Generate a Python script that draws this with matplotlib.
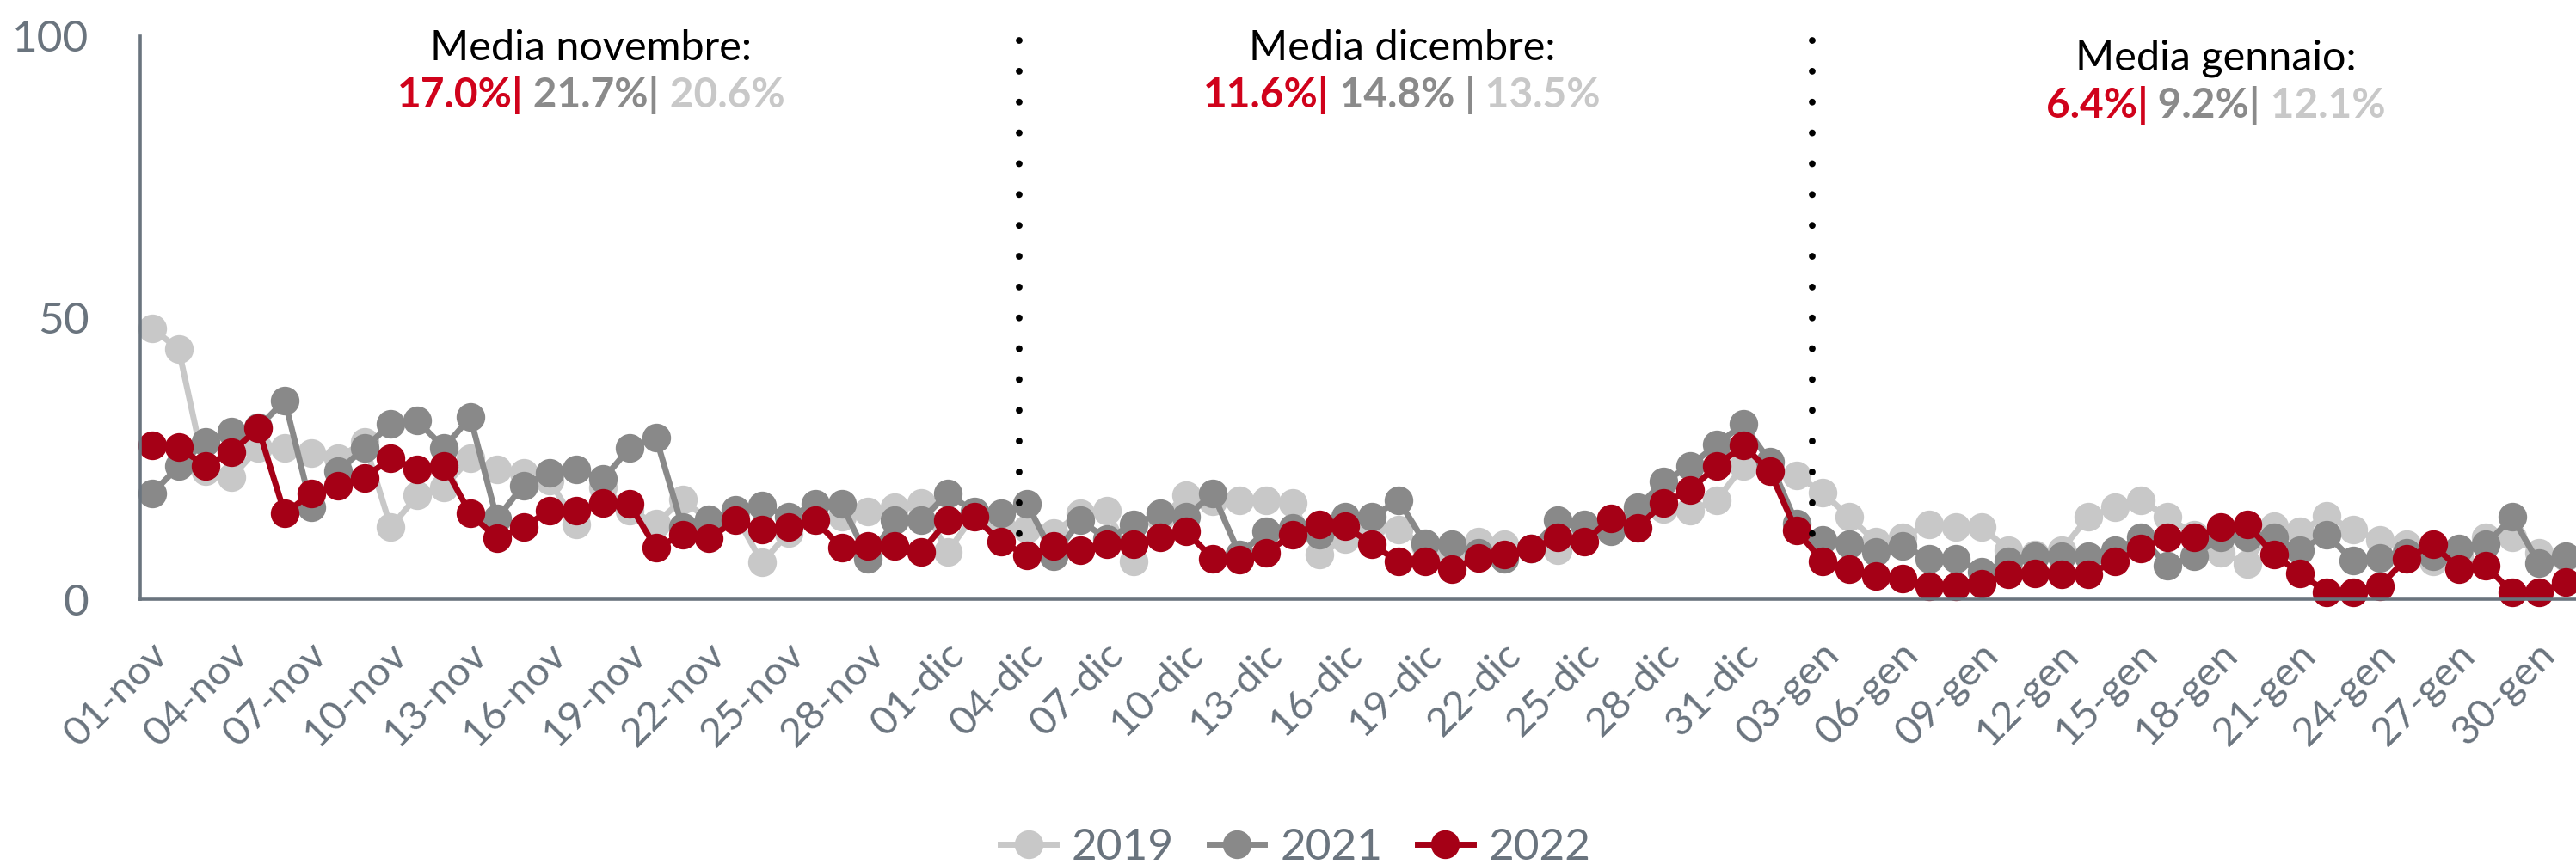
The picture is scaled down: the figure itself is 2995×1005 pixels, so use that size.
import matplotlib
matplotlib.use("Agg")
import matplotlib.pyplot as plt
from matplotlib.transforms import ScaledTranslation
import numpy as np

plt.rcParams['font.family'] = ['Lato', 'DejaVu Sans']

# giorni dal 01-nov al 31-gen
tick_labels = ['01-nov', '04-nov', '07-nov', '10-nov', '13-nov', '16-nov', '19-nov',
               '22-nov', '25-nov', '28-nov', '01-dic', '04-dic', '07-dic', '10-dic',
               '13-dic', '16-dic', '19-dic', '22-dic', '25-dic', '28-dic', '31-dic',
               '03-gen', '06-gen', '09-gen', '12-gen', '15-gen', '18-gen', '21-gen',
               '24-gen', '27-gen', '30-gen']

y2019 = [48.1, 44.4, 22.7, 21.7, 26.8, 26.8, 26.0, 25.0, 28.0, 12.8,
         18.4, 19.9, 25.0, 23.0, 22.4, 21.0, 13.3, 19.9, 15.8, 13.5,
         17.7, 14.0, 15.0, 6.5, 11.8, 14.0, 14.6, 15.6, 16.3, 17.1,
         8.4, 15.0, 13.0, 12.5, 11.8, 15.3, 15.8, 6.7, 14.5, 18.4,
         17.4, 17.6, 17.6, 17.1, 7.9, 10.7, 13.0, 12.3, 9.5, 7.5,
         10.2, 9.7, 9.0, 8.7, 12.0, 14.0, 16.0, 16.0, 15.8, 17.6,
         23.7, 23.0, 22.0, 18.9, 14.6, 10.2, 11.0, 13.3, 12.8, 12.8,
         8.7, 7.9, 8.7, 14.6, 16.3, 17.6, 14.6, 11.5, 8.2, 6.3,
         13.0, 12.0, 14.8, 12.3, 10.5, 9.7, 6.7, 7.7, 11.0, 11.0,
         8.2, 7.5]

y2021 = [18.8, 23.6, 28.0, 29.8, 30.5, 35.3, 16.4, 22.7, 26.8, 31.1,
         31.7, 26.9, 32.3, 14.3, 20.2, 22.5, 23.0, 21.3, 26.8, 28.7,
         12.8, 14.2, 15.9, 16.7, 14.6, 16.9, 16.9, 7.2, 14.0, 14.0,
         18.8, 15.5, 15.2, 16.9, 7.7, 14.0, 10.7, 13.3, 15.2, 14.6,
         18.8, 8.0, 12.0, 12.7, 11.5, 14.6, 14.6, 17.6, 10.0, 9.7,
         8.2, 7.2, 9.0, 14.0, 13.3, 12.0, 16.3, 20.9, 23.7, 27.5,
         31.1, 24.5, 13.5, 10.5, 9.7, 8.4, 9.5, 7.2, 7.2, 4.9,
         6.7, 7.7, 7.7, 7.7, 8.7, 11.0, 5.9, 7.7, 11.0, 11.0,
         11.0, 8.7, 11.5, 6.8, 7.4, 8.2, 7.7, 9.0, 9.7, 14.6,
         6.4, 7.7]

y2022 = [27.4, 27.0, 23.7, 26.1, 30.4, 15.2, 18.8, 20.2, 21.6, 25.0,
         23.1, 23.7, 15.2, 10.8, 12.8, 15.8, 15.8, 17.1, 16.9, 9.1,
         11.5, 10.8, 14.0, 12.3, 12.8, 14.0, 9.1, 9.5, 9.5, 8.4,
         14.0, 14.6, 10.2, 7.8, 9.5, 8.7, 9.7, 9.7, 11.0, 12.0,
         7.2, 7.0, 8.2, 11.5, 13.3, 13.0, 9.7, 6.7, 6.7, 5.4,
         7.4, 7.9, 9.0, 11.0, 10.2, 14.3, 12.7, 17.1, 19.4, 23.7,
         27.3, 22.7, 12.2, 6.7, 5.4, 4.1, 3.6, 2.3, 2.3, 2.8,
         4.4, 4.6, 4.4, 4.4, 6.7, 9.0, 11.0, 11.0, 12.8, 13.3,
         7.9, 4.6, 1.2, 1.2, 2.3, 7.2, 9.7, 5.4, 5.9, 1.2,
         1.2, 3.1]

mesi = ['Media novembre:', 'Media dicembre:', 'Media gennaio:']
medie = [['17.0%|', ' 21.7%|', ' 20.6%'],
         ['11.6%|', ' 14.8% |', ' 13.5%'],
         ['6.4%|', ' 9.2%|', ' 12.1%']]

c2019 = '#c8c8c8'
c2021 = '#898989'
c2022 = '#a50016'
slate = '#6a747e'
text_cols = ['#d0021b', '#8a8a8a', '#c8c8c8']

W, H = 2995, 1005
fig = plt.figure(figsize=(W / 100, H / 100), dpi=100)
ax = fig.add_axes([163 / W, 1 - 697 / H, (W - 163) / W, (697 - 42) / H])

x = np.arange(len(y2022))
for y, c, lab in [(y2019, c2019, '2019'), (y2021, c2021, '2021'), (y2022, c2022, '2022')]:
    ax.plot(x, y, color=c, lw=5, marker='o', ms=23, label=lab, clip_on=False)

# separatori tra i mesi
for xs in [32.7, 62.6]:
    ax.plot([xs, xs], [99.2, 11], color='black', lw=5.6,
            linestyle=(0, (0.01, 4.6)), dash_capstyle='round')

ax.set_xlim(-0.45, 91.4)
ax.set_ylim(0, 100)
ax.set_yticks([0, 50, 100])
ax.set_xticks(np.arange(0, 91, 3))
ax.set_xticklabels(tick_labels, rotation=45, ha='right', va='center',
                   rotation_mode='anchor')
ax.tick_params(axis='both', length=0, labelsize=37, colors=slate)
ax.tick_params(axis='x', labelsize=34, pad=30)
ax.tick_params(axis='y', pad=43)
for s in ['top', 'right']:
    ax.spines[s].set_visible(False)
for s in ['left', 'bottom']:
    ax.spines[s].set_color(slate)
    ax.spines[s].set_linewidth(2.6)

# sposta le etichette un po' in basso a destra
shift = ScaledTranslation(12 / 100, -16 / 100, fig.dpi_scale_trans)
for lab in ax.get_xticklabels():
    lab.set_transform(lab.get_transform() + shift)

leg = fig.legend(loc='center', bbox_to_anchor=(0.503, 0.019), ncol=3, frameon=False,
                 fontsize=37, labelcolor=slate, handlelength=1.25, handletextpad=0.35,
                 columnspacing=0.8, borderpad=0)

# medie mensili
centers = [687, 1630, 2576]
base1 = [70, 70, 82]
base2 = [125, 125, 137]
r = fig.canvas.get_renderer()
for m, vals, cx, b1, b2 in zip(mesi, medie, centers, base1, base2):
    fig.text(cx / W, 1 - b1 / H, m, ha='center', va='baseline', fontsize=35, color='black')
    parts = [fig.text(0, 1 - b2 / H, v, ha='left', va='baseline', fontsize=34.5,
                      color=c, fontweight='bold') for v, c in zip(vals, text_cols)]
    widths = [p.get_window_extent(r).width for p in parts]
    start = cx - sum(widths) / 2
    for p, w in zip(parts, widths):
        p.set_x(start / W)
        start += w

fig.savefig('out.png', dpi=100)
